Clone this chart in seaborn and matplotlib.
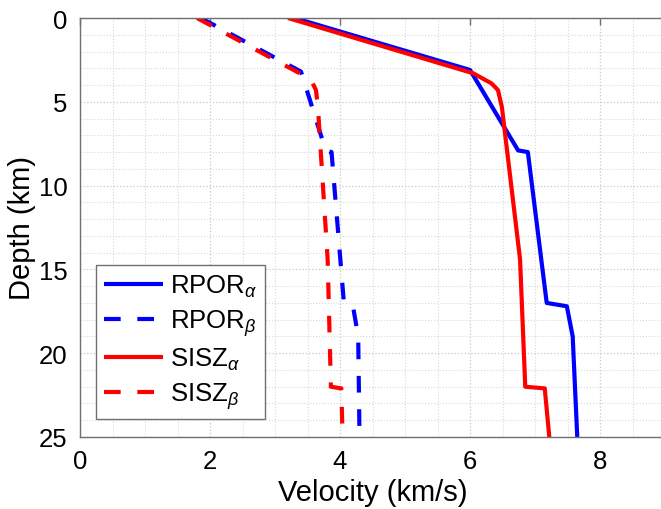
import numpy as np
import pandas as pd
import matplotlib
matplotlib.use('Agg')
import matplotlib.pyplot as plt
from matplotlib.ticker import MultipleLocator
import seaborn as sns

# velocity models (depth in km, velocity in km/s)
rpor_a_depth = [0.0, 3.1, 7.9, 8.0, 17.0, 17.2, 19.0, 25.0]
rpor_a_vel = [3.3, 6.0, 6.74, 6.89, 7.18, 7.49, 7.58, 7.65]
rpor_b_depth = [0.0, 3.2, 7.9, 8.0, 17.0, 17.2, 19.0, 25.0]
rpor_b_vel = [1.86, 3.4, 3.78, 3.87, 4.06, 4.2, 4.28, 4.3]
sisz_a_depth = [0.0, 3.3, 3.9, 4.3, 5.3, 14.4, 22.0, 22.1, 25.0]
sisz_a_vel = [3.2, 6.05, 6.33, 6.43, 6.49, 6.77, 6.85, 7.15, 7.22]
sisz_b_depth = [0.0, 3.3, 3.9, 4.3, 5.3, 14.4, 22.0, 22.1, 25.0]
sisz_b_vel = [1.8, 3.38, 3.58, 3.63, 3.66, 3.81, 3.86, 4.02, 4.04]

series = [
    ('RPOR$_{\\alpha}$', rpor_a_depth, rpor_a_vel, '#0000ff', '-'),
    ('RPOR$_{\\beta}$', rpor_b_depth, rpor_b_vel, '#0000ff', '--'),
    ('SISZ$_{\\alpha}$', sisz_a_depth, sisz_a_vel, '#ff0000', '-'),
    ('SISZ$_{\\beta}$', sisz_b_depth, sisz_b_vel, '#ff0000', '--'),
]

sns.set_style('white')
plt.rcParams['font.family'] = ['Liberation Sans', 'DejaVu Sans']
plt.rcParams['mathtext.fontset'] = 'custom'
plt.rcParams['mathtext.rm'] = 'Liberation Sans'
plt.rcParams['mathtext.it'] = 'Liberation Sans:italic'
plt.rcParams['text.color'] = 'black'
plt.rcParams['axes.labelcolor'] = 'black'

fig = plt.figure(figsize=(6.61, 5.10), dpi=100)
ax = fig.add_axes([80 / 661, 72 / 510, 585 / 661, 419 / 510])

for name, d, v, col, ls in series:
    df = pd.DataFrame({'vel': v, 'depth': d})
    sns.lineplot(data=df, x='vel', y='depth', sort=False, estimator=None,
                 color=col, linewidth=3, label=name, ax=ax)
    l = ax.get_lines()[-1]
    if ls == '--':
        l.set_dashes((4, 4))
    l.set_solid_capstyle('butt')

ax.set_xlim(0, 9)
ax.set_ylim(25, 0)
ax.xaxis.set_major_locator(MultipleLocator(2))
ax.xaxis.set_minor_locator(MultipleLocator(0.5))
ax.yaxis.set_major_locator(MultipleLocator(5))
ax.yaxis.set_minor_locator(MultipleLocator(1))
ax.grid(which='major', color='#c8c8c8', linestyle=':', linewidth=0.9)
ax.grid(which='minor', color='#d8d8d8', linestyle=':', linewidth=0.8)
ax.set_axisbelow(True)

for s in ax.spines.values():
    s.set_color('#707070')
    s.set_linewidth(1.0)
ax.spines['right'].set_visible(False)

ax.tick_params(which='major', direction='in', length=5, width=1, color='#707070',
               labelcolor='black', top=True, labelsize=18.5, pad=9)
ax.tick_params(which='minor', length=0)

ax.set_xlabel('Velocity (km/s)', fontsize=21, labelpad=3)
ax.set_ylabel('Depth (km)', fontsize=21, labelpad=2)

leg = ax.legend(loc='lower left', bbox_to_anchor=(0.027, 0.043), borderaxespad=0,
                fontsize=18.5, frameon=True, fancybox=False, framealpha=1,
                handlelength=2.3, handletextpad=0.3, labelspacing=0.32,
                borderpad=0.3)
leg.get_frame().set_edgecolor('#707070')
leg.get_frame().set_linewidth(1.0)
for h in leg.get_lines():
    h.set_linewidth(3)

fig.savefig('out.png', dpi=100)
